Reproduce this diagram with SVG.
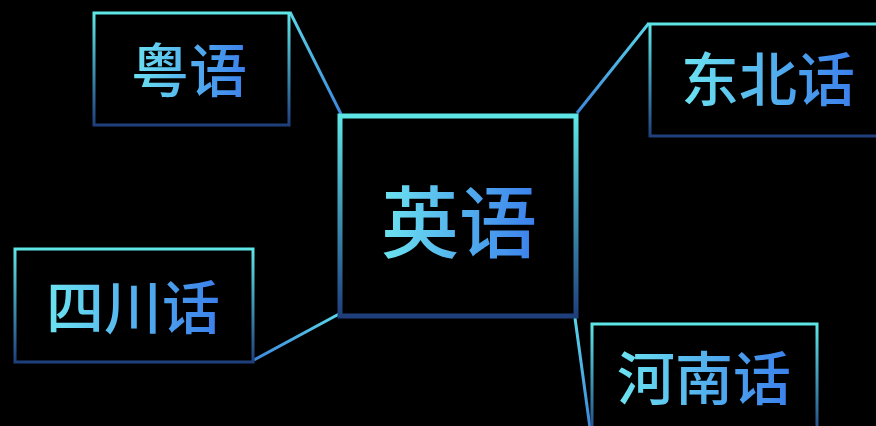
<svg xmlns="http://www.w3.org/2000/svg" width="876" height="426" viewBox="0 0 876 426">
  <defs>
    <linearGradient id="boxStroke" x1="0" y1="0" x2="0" y2="1">
      <stop offset="0" stop-color="#5ee6e6"/>
      <stop offset="1" stop-color="#1f3f7c"/>
    </linearGradient>
    <linearGradient id="lineStroke" x1="0" y1="0" x2="0" y2="1">
      <stop offset="0" stop-color="#5ad6e8"/>
      <stop offset="1" stop-color="#3d86dc"/>
    </linearGradient>
    <linearGradient id="textFill" x1="0" y1="0" x2="1" y2="0">
      <stop offset="0" stop-color="#6ce4f0"/>
      <stop offset="1" stop-color="#3b7fec"/>
    </linearGradient>
    <style>
      .box { fill: #000; stroke: url(#boxStroke); stroke-width: 3; }
      .main { stroke-width: 5; }
      .lbl { font-family: "Noto Sans CJK SC", "Noto Sans", sans-serif; font-weight: 500; fill: url(#textFill); text-anchor: middle; dominant-baseline: central; }
      .conn { stroke: url(#lineStroke); stroke-width: 3; fill: none; }
    </style>
  </defs>
  <rect width="876" height="426" fill="#000"/>
  <g id="connectors">
    <line class="conn" x1="290" y1="12" x2="341" y2="114"/>
    <line class="conn" x1="649" y1="23" x2="577" y2="113"/>
    <line class="conn" x1="254" y1="360" x2="339" y2="314"/>
    <line class="conn" x1="575" y1="318" x2="590" y2="428"/>
  </g>
  <g id="node-yingyu">
    <rect class="box main" x="340" y="116" width="236" height="200"/>
    <text class="lbl" x="459" y="218" font-size="78">英语</text>
  </g>
  <g id="node-yueyu">
    <rect class="box" x="94" y="13" width="195" height="112"/>
    <text class="lbl" x="189" y="67" font-size="58">粤语</text>
  </g>
  <g id="node-dongbeihua">
    <rect class="box" x="650" y="24" width="240" height="112"/>
    <text class="lbl" x="768" y="76" font-size="58">东北话</text>
  </g>
  <g id="node-sichuanhua">
    <rect class="box" x="15" y="249" width="238" height="113"/>
    <text class="lbl" x="133" y="304" font-size="58">四川话</text>
  </g>
  <g id="node-henanhua">
    <rect class="box" x="592" y="324" width="225" height="115"/>
    <text class="lbl" x="704" y="375" font-size="58">河南话</text>
  </g>
</svg>
